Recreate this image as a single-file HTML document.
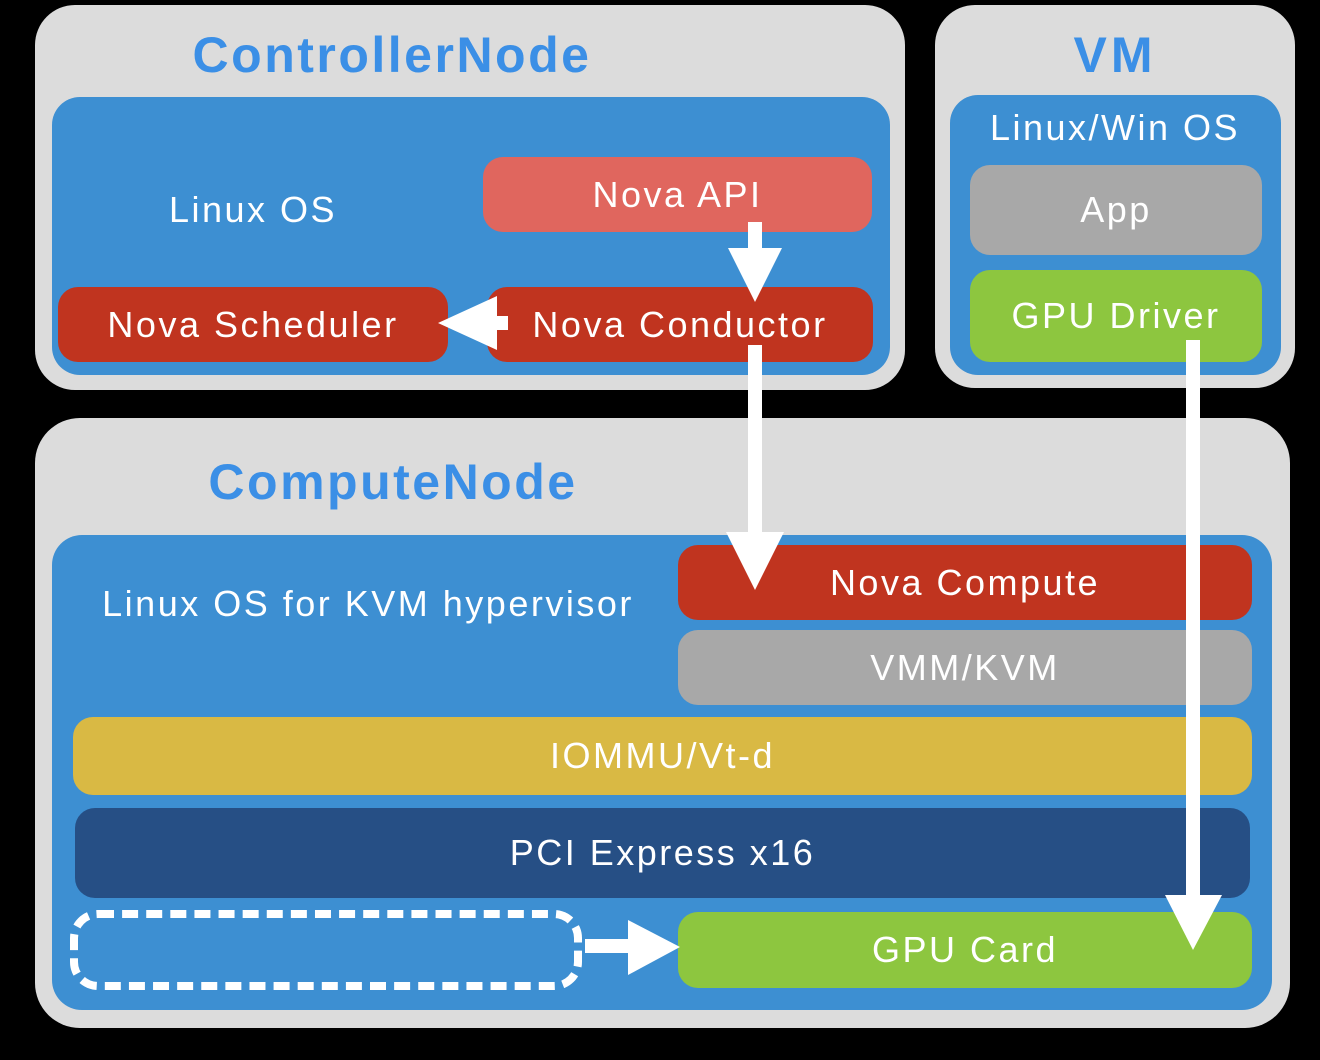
<!DOCTYPE html>
<html><head><style>
body{margin:0;background:#000;width:1320px;height:1060px;position:relative;overflow:hidden;font-family:"Liberation Sans",sans-serif;}
.b{position:absolute;box-sizing:border-box;}
.t{position:absolute;color:#fff;font-size:36px;letter-spacing:2.5px;white-space:nowrap;transform:translate(-50%,-50%);}
.box{display:flex;align-items:center;justify-content:center;color:#fff;font-size:36px;letter-spacing:2.5px;}
.title{position:absolute;color:#3b8fe6;font-size:50px;font-weight:bold;letter-spacing:2.5px;transform:translate(-50%,-50%);white-space:nowrap;}
</style></head><body>
<div class="b" style="left:35px;top:5px;width:870px;height:385px;background:#dcdcdc;border-radius:40px;"></div>
<div class="b" style="left:52px;top:97px;width:838px;height:278px;background:#3d8fd2;border-radius:28px;"></div>
<div class="title" style="left:392px;top:55px;">ControllerNode</div>
<div class="t" style="left:253px;top:210px;">Linux OS</div>
<div class="b box" style="left:483px;top:157px;width:389px;height:75px;background:#e0665e;border-radius:20px;">Nova API</div>
<div class="b box" style="left:487px;top:287px;width:386px;height:75px;background:#c0341f;border-radius:20px;">Nova Conductor</div>
<div class="b box" style="left:58px;top:287px;width:390px;height:75px;background:#c0341f;border-radius:20px;">Nova Scheduler</div>

<div class="b" style="left:935px;top:5px;width:360px;height:383px;background:#dcdcdc;border-radius:40px;"></div>
<div class="b" style="left:950px;top:95px;width:331px;height:280px;background:#3d8fd2;border-radius:28px;"></div>
<div class="title" style="left:1115px;top:55px;letter-spacing:4px;">VM</div>
<div class="t" style="left:1115px;top:128px;">Linux/Win OS</div>
<div class="b box" style="left:970px;top:165px;width:292px;height:90px;background:#a8a8a8;border-radius:20px;">App</div>
<div class="b box" style="left:970px;top:270px;width:292px;height:92px;background:#8dc63f;border-radius:20px;">GPU Driver</div>

<div class="b" style="left:35px;top:418px;width:1255px;height:610px;background:#dcdcdc;border-radius:45px;"></div>
<div class="b" style="left:52px;top:535px;width:1220px;height:475px;background:#3d8fd2;border-radius:30px;"></div>
<div class="title" style="left:393px;top:482px;">ComputeNode</div>
<div class="t" style="left:368px;top:604px;">Linux OS for KVM hypervisor</div>
<div class="b box" style="left:678px;top:545px;width:574px;height:75px;background:#c0341f;border-radius:20px;">Nova Compute</div>
<div class="b box" style="left:678px;top:630px;width:574px;height:75px;background:#a8a8a8;border-radius:20px;">VMM/KVM</div>
<div class="b box" style="left:73px;top:717px;width:1179px;height:78px;background:#d9b944;border-radius:20px;">IOMMU/Vt-d</div>
<div class="b box" style="left:75px;top:808px;width:1175px;height:90px;background:#264f85;border-radius:20px;">PCI Express x16</div>
<div class="b box" style="left:678px;top:912px;width:574px;height:76px;background:#8dc63f;border-radius:20px;">GPU Card</div>
<div class="b" style="left:70px;top:910px;width:512px;height:80px;border:8px dashed #fff;border-radius:28px;"></div>

<svg class="b" style="left:0;top:0" width="1320" height="1060">
<g fill="#fff">
<rect x="748" y="222" width="14" height="30"/><polygon points="728,248 782,248 755,302"/>
<rect x="488" y="316" width="20" height="14"/><polygon points="497,296 497,350 438,323"/>
<rect x="748" y="345" width="14" height="190"/><polygon points="726,532 784,532 755,590"/>
<rect x="1186" y="340" width="14" height="560"/><polygon points="1165,895 1222,895 1193,950"/>
<rect x="585" y="939" width="45" height="14"/><polygon points="628,920 628,975 680,947"/>
</g></svg>
</body></html>
